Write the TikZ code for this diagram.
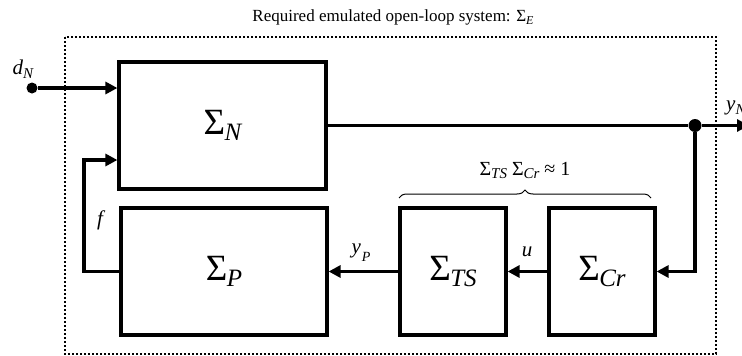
\documentclass[tikz,border=0pt]{standalone}
\usepackage{fontspec}
\setmainfont{Liberation Serif}
\usetikzlibrary{arrows.meta,decorations.pathreplacing}
% #1 text, #2 size, #3 drop
\newcommand\Sub[3]{\raisebox{-#3}{\fontsize{#2}{#2}\selectfont\itshape #1}}
\newcommand\BigS[1]{Σ\kern-0.5pt\Sub{#1}{25}{6pt}}
\begin{document}
\begin{tikzpicture}[x=1pt,y=-1pt,
  blk/.style={draw,line width=3.2pt,inner sep=0pt,font=\fontsize{37}{37}\selectfont},
  conn/.style={line width=3.2pt},
  arr/.style={conn,-{Triangle[length=12pt,width=12pt]}},
  lbl/.style={font=\fontsize{21}{21}\selectfont\itshape,inner sep=0pt},
  frm/.style={draw,line width=2pt,dash pattern=on 2pt off 2pt},
  dotnode/.style={circle,fill,inner sep=0pt},
]
\useasboundingbox (0,0) rectangle (742,356);
% frame and title
\draw[frm] (65,37) rectangle (716,354);
\node[font=\fontsize{17}{17}\selectfont,inner sep=0pt] (title) at (393,17) {Required emulated open-loop system: Σ\Sub{E}{12}{3pt}};
% blocks
\node[blk,minimum width=207pt,minimum height=127pt] (N) at (222.5,125.5) {\BigS{N}};
\node[blk,minimum width=206pt,minimum height=127pt] (P) at (224,271.5) {\BigS{P}};
\node[blk,minimum width=106pt,minimum height=127pt] (TS) at (453,271.5) {\BigS{TS}};
\node[blk,minimum width=106pt,minimum height=127pt] (Cr) at (602,271.5) {\BigS{Cr}};
% points
\node[dotnode,minimum size=13pt] (J) at (695,125.5) {};
\node[dotnode,minimum size=11pt] (dN) at (32,88) {};
\coordinate (out) at (749,125.5);
\coordinate (fb) at (84,160);
% connectors
\draw[arr] (dN) -- (dN -| N.west);
\draw[conn] (N.east) -- (J);
\draw[arr] (J) -- (out);
\draw[arr] (J) |- (Cr.east);
\draw[arr] (Cr.west) -- (TS.east);
\draw[arr] (TS.west) -- (P.east);
\draw[arr] (P.west) -| (fb) -- (fb -| N.west);
% brace
\draw[decorate,decoration={brace,amplitude=8pt},line width=1pt] (399,198) -- (651,198);
% labels
\node[font=\fontsize{20}{20}\selectfont,inner sep=0pt] (br) at (525,170) {Σ\Sub{TS}{15}{3pt} Σ\Sub{Cr}{15}{3pt} ≈ 1};
\node[lbl] (ldN) at (23,69) {d\Sub{N}{15}{4pt}};
\node[lbl] (lf) at (100,220) {f};
\node[lbl] (lyP) at (361,253) {y\kern1pt\Sub{P}{14}{8pt}};
\node[lbl] (lu) at (527,252) {u};
\node[lbl,anchor=west] (lyN) at (726,108) {y\Sub{N}{15}{4pt}};
\end{tikzpicture}
\end{document}
